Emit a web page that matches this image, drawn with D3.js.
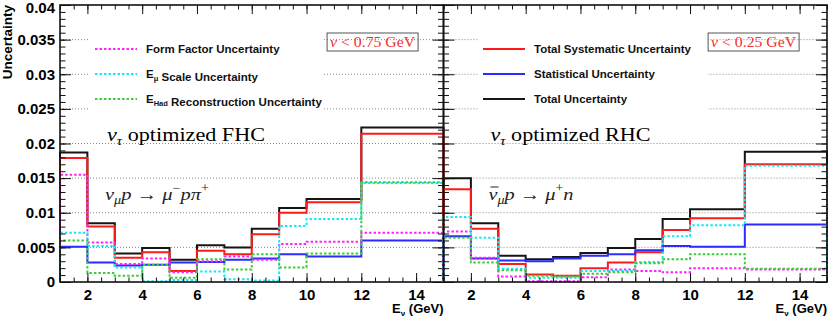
<!DOCTYPE html>
<html>
<head>
<meta charset="utf-8">
<script src="https://cdn.jsdelivr.net/npm/d3@7"></script>
<style>
  body { margin: 0; background: #fff; }
  svg { display: block; }
  text { font-family: "Liberation Sans", Arial, sans-serif; }
  .serif { font-family: "Liberation Serif", "Times New Roman", serif; }
</style>
</head>
<body>
<svg id="chart" width="830" height="319"></svg>
<script>
// bin edges in E_nu (GeV)
const edges = [1, 2, 3, 4, 5, 6, 7, 8, 9, 10, 12, 15];

// FHC panel
const fhcTotal      = [0.0187, 0.0085, 0.0041, 0.0049, 0.0032, 0.0053, 0.0050, 0.0077, 0.0107, 0.0120, 0.0223];
const fhcSyst       = [0.0179, 0.0080, 0.0035, 0.0043, 0.0016, 0.0045, 0.0040, 0.0069, 0.0100, 0.0115, 0.0214];
const fhcStat       = [0.0051, 0.0028, 0.0024, 0.0025, 0.0028, 0.0029, 0.0032, 0.0034, 0.0040, 0.0037, 0.0060];
const fhcFormFactor = [0.0155, 0.0057, 0.0026, 0.0034, 0.0014, 0.0030, 0.0037, 0.0032, 0.0055, 0.0058, 0.0071];
const fhcEmuScale   = [0.0071, 0.0052, 0.0021, 0.0001, 0.0003, 0.0015, 0.0004, 0.0002, 0.0081, 0.0091, 0.0143];
const fhcEhad       = [0.0060, 0.0013, 0.0009, 0.0025, 0.0006, 0.0033, 0.0018, 0.0040, 0.0021, 0.0041, 0.0144];

// RHC panel
const rhcTotal      = [0.0150, 0.0085, 0.0038, 0.0033, 0.0036, 0.0042, 0.0049, 0.0062, 0.0091, 0.0105, 0.0188];
const rhcSyst       = [0.0134, 0.0077, 0.0026, 0.0011, 0.0009, 0.0020, 0.0028, 0.0043, 0.0075, 0.0092, 0.0170];
const rhcStat       = [0.0066, 0.0034, 0.0031, 0.0030, 0.0034, 0.0038, 0.0040, 0.0046, 0.0052, 0.0051, 0.0083];
const rhcFormFactor = [0.0073, 0.0035, 0.0008, 0.0001, 0.0001, 0.0007, 0.0018, 0.0016, 0.0014, 0.0020, 0.0018];
const rhcEmuScale   = [0.0094, 0.0064, 0.0019, 0.0006, 0.0006, 0.0016, 0.0016, 0.0029, 0.0066, 0.0082, 0.0168];
const rhcEhad       = [0.0064, 0.0028, 0.0017, 0.0009, 0.0008, 0.0012, 0.0014, 0.0027, 0.0033, 0.0040, 0.0019];

// ticks
const xMajor = [2, 4, 6, 8, 10, 12, 14];
const xMinor = d3.range(1, 15.01, 0.5);
const yMajor = [0, 0.005, 0.01, 0.015, 0.02, 0.025, 0.03, 0.035, 0.04];
const yTickLabels = ['0', '0.005', '0.01', '0.015', '0.02', '0.025', '0.03', '0.035', '0.04'];
const yMinor = d3.range(0, 0.04001, 0.001);
const yGrid = [0.005, 0.01, 0.015, 0.02, 0.025, 0.03, 0.035];

const svg = d3.select('#chart');
svg.append('rect').attr('width', 830).attr('height', 319).attr('fill', '#fff');

const y = d3.scaleLinear().domain([0, 0.04]).range([282, 5]);
const xL = d3.scaleLinear().domain([1, 15]).range([60, 443.5]);
const xR = d3.scaleLinear().domain([1, 15]).range([443.5, 827]);

function stepPoints(vals) {
  const pts = [[edges[0], 0]];
  vals.forEach((v, i) => { pts.push([edges[i], v]); pts.push([edges[i + 1], v]); });
  pts.push([edges[edges.length - 1], 0]);
  return pts;
}

function drawPanel(x, series, legend, legendBox, boxText, title, reaction, showYLabels) {
  const g = svg.append('g');
  const [x0, x1] = x.range();

  // dotted grid
  g.selectAll('line.grid').data(yGrid).join('line')
    .attr('x1', x0).attr('x2', x1)
    .attr('y1', d => y(d)).attr('y2', d => y(d))
    .attr('stroke', '#8a8a8a').attr('stroke-width', 1).attr('stroke-dasharray', '1,2');

  // histograms
  const line = d3.line().x(d => x(d[0])).y(d => y(d[1]));
  series.forEach(s => {
    g.append('path').attr('d', line(stepPoints(s.values)))
      .attr('fill', 'none').attr('stroke', s.color).attr('stroke-width', 2)
      .attr('stroke-dasharray', s.dash || null);
  });

  // legend (white box, no border)
  g.append('rect').attr('x', legendBox[0]).attr('y', 30).attr('width', legendBox[1] - legendBox[0]).attr('height', 84).attr('fill', '#fff');
  legend.forEach((s, i) => {
    const ly = 49 + i * 25;
    g.append('line').attr('x1', legendBox[0] + 5).attr('x2', legendBox[0] + 47)
      .attr('y1', ly).attr('y2', ly)
      .attr('stroke', s.color).attr('stroke-width', 2).attr('stroke-dasharray', s.dash || null);
    const t = g.append('text').attr('x', legendBox[0] + 56).attr('y', ly + 4)
      .attr('font-size', 11.5).attr('font-weight', 'bold').attr('fill', '#111');
    s.label.forEach(part => {
      if (part.sub) {
        t.append('tspan').attr('font-size', 7.5).attr('dy', 3).text(part.sub);
        t.append('tspan').attr('dy', -3).text('');
      } else {
        t.append('tspan').text(part.t);
      }
    });
  });

  // cut box
  const bx = x(boxText.at);
  g.append('rect').attr('x', bx).attr('y', 33).attr('width', 91).attr('height', 18)
    .attr('fill', 'none').attr('stroke', '#555').attr('stroke-width', 1);
  const bt = g.append('text').attr('class', 'serif').attr('x', bx + 3).attr('y', 47)
    .attr('font-size', 15).attr('fill', '#f03030')
    .attr('textLength', 85).attr('lengthAdjust', 'spacingAndGlyphs');
  bt.append('tspan').attr('font-style', 'italic').text('ν');
  bt.append('tspan').text(' < ' + boxText.value + ' GeV');

  // title
  const tx = x0 + 47;
  const tt = g.append('text').attr('class', 'serif').attr('x', tx).attr('y', 141).attr('font-size', 19.5).attr('fill', '#000')
    .attr('textLength', title.len).attr('lengthAdjust', 'spacingAndGlyphs');
  tt.append('tspan').attr('font-style', 'italic').text('ν');
  tt.append('tspan').attr('font-style', 'italic').attr('font-size', 13).attr('dy', 4).text('τ');
  tt.append('tspan').attr('dy', -4).text(' optimized ' + title.name);

  // reaction
  const rt = g.append('text').attr('class', 'serif').attr('x', tx - 2).attr('y', 200).attr('font-size', 17.5).attr('fill', '#222')
    .attr('textLength', reaction.len).attr('lengthAdjust', 'spacingAndGlyphs');
  reaction.parts.forEach(p => {
    const sp = rt.append('tspan').text(p.t);
    if (p.it) sp.attr('font-style', 'italic');
    if (p.sub) sp.attr('font-size', 12).attr('dy', 4);
    if (p.back) sp.attr('dy', p.back);
    if (p.sup) sp.attr('font-size', 12).attr('dy', -8);
  });
  if (reaction.bar) {
    // overline on the first glyph (anti-neutrino)
    const ext = rt.node().getExtentOfChar(0);
    g.append('line').attr('x1', ext.x + 2).attr('x2', ext.x + ext.width + 1)
      .attr('y1', ext.y + 3).attr('y2', ext.y + 3)
      .attr('stroke', '#222').attr('stroke-width', 1);
  }

  // axes (ROOT style, ticks inside)
  const ax = g.append('g');
  ax.append('g').attr('transform', `translate(0,${y(0)})`)
    .call(d3.axisBottom(x).tickValues(xMinor).tickSize(-4.5).tickFormat(''));
  ax.append('g').attr('transform', `translate(0,${y(0)})`)
    .call(d3.axisBottom(x).tickValues(xMajor).tickSize(-9).tickPadding(7).tickFormat(d3.format('d')));
  ax.append('g').attr('transform', `translate(0,${y(0.04)})`)
    .call(d3.axisTop(x).tickValues(xMinor).tickSize(-4.5).tickFormat(''));
  ax.append('g').attr('transform', `translate(0,${y(0.04)})`)
    .call(d3.axisTop(x).tickValues(xMajor).tickSize(-9).tickFormat(''));
  ax.append('g').attr('transform', `translate(${x0},0)`)
    .call(d3.axisLeft(y).tickValues(yMinor).tickSize(-5.5).tickFormat(''));
  ax.append('g').attr('transform', `translate(${x0},0)`)
    .call(d3.axisLeft(y).tickValues(yMajor).tickSize(-11).tickPadding(5)
      .tickFormat((d, i) => showYLabels ? yTickLabels[i] : ''));
  ax.append('g').attr('transform', `translate(${x1},0)`)
    .call(d3.axisRight(y).tickValues(yMinor).tickSize(-5.5).tickFormat(''));
  ax.append('g').attr('transform', `translate(${x1},0)`)
    .call(d3.axisRight(y).tickValues(yMajor).tickSize(-11).tickFormat(''));
  ax.selectAll('.domain').remove();
  ax.selectAll('.tick line').attr('stroke', '#111');
  ax.selectAll('.tick text').attr('font-family', '"Liberation Sans", Arial, sans-serif')
    .attr('font-size', 15).attr('font-weight', 'bold').attr('fill', '#000');
  // keep the top label inside the picture
  ax.selectAll('.tick text').filter(d => d === 0.04).attr('dy', '0.5em');

  g.append('rect').attr('x', x0).attr('y', y(0.04)).attr('width', x1 - x0).attr('height', y(0) - y(0.04))
    .attr('fill', 'none').attr('stroke', '#111').attr('stroke-width', 1.6);

  // x title
  const xt = g.append('text').attr('x', x1).attr('y', 313).attr('text-anchor', 'end')
    .attr('font-size', 13).attr('font-weight', 'bold').attr('fill', '#000');
  xt.append('tspan').text('E');
  xt.append('tspan').attr('font-size', 8).attr('dy', 3).text('ν');
  xt.append('tspan').attr('dy', -3).text(' (GeV)');
}

const cRed = '#ff1a1a', cBlue = '#2b2bff', cBlack = '#151515';
const cMag = '#ff22ff', cCyan = '#18e8f5', cGreen = '#3ccc3c';
const dash = '2.5,2';

function seriesFor(total, syst, stat, ff, emu, ehad) {
  return [
    { values: total, color: cBlack },
    { values: syst, color: cRed },
    { values: stat, color: cBlue },
    { values: ff, color: cMag, dash },
    { values: emu, color: cCyan, dash },
    { values: ehad, color: cGreen, dash }
  ];
}

const legendLeft = [
  { color: cMag, dash, label: [{ t: 'Form Factor Uncertainty' }] },
  { color: cCyan, dash, label: [{ t: 'E' }, { sub: 'μ' }, { t: ' Scale Uncertainty' }] },
  { color: cGreen, dash, label: [{ t: 'E' }, { sub: 'Had' }, { t: ' Reconstruction Uncertainty' }] }
];
const legendRight = [
  { color: cRed, label: [{ t: 'Total Systematic Uncertainty' }] },
  { color: cBlue, label: [{ t: 'Statistical Uncertainty' }] },
  { color: cBlack, label: [{ t: 'Total Uncertainty' }] }
];

drawPanel(xL, seriesFor(fhcTotal, fhcSyst, fhcStat, fhcFormFactor, fhcEmuScale, fhcEhad),
  legendLeft, [90, 322], { at: 10.75, value: '0.75' }, { name: 'FHC', len: 158 },
  { len: 104, parts: [{ t: 'ν', it: true }, { t: 'μ', it: true, sub: true }, { t: 'p', it: true, back: -4 }, { t: ' → ' },
   { t: 'μ', it: true }, { t: '−', sup: true }, { t: 'p', it: true, back: 8 }, { t: 'π', it: true }, { t: '+', sup: true }] },
  true);

drawPanel(xR, seriesFor(rhcTotal, rhcSyst, rhcStat, rhcFormFactor, rhcEmuScale, rhcEhad),
  legendRight, [478, 708], { at: 10.66, value: '0.25' }, { name: 'RHC', len: 160 },
  { len: 85, bar: true, parts: [{ t: 'ν', it: true }, { t: 'μ', it: true, sub: true }, { t: 'p', it: true, back: -4 }, { t: ' → ' },
   { t: 'μ', it: true }, { t: '+', sup: true }, { t: 'n', it: true, back: 8 }] },
  false);

// y title
svg.append('text').attr('transform', 'translate(12,5) rotate(-90)').attr('text-anchor', 'end')
  .attr('font-size', 13.5).attr('font-weight', 'bold').attr('fill', '#000').text('Uncertainty');
</script>
</body>
</html>
